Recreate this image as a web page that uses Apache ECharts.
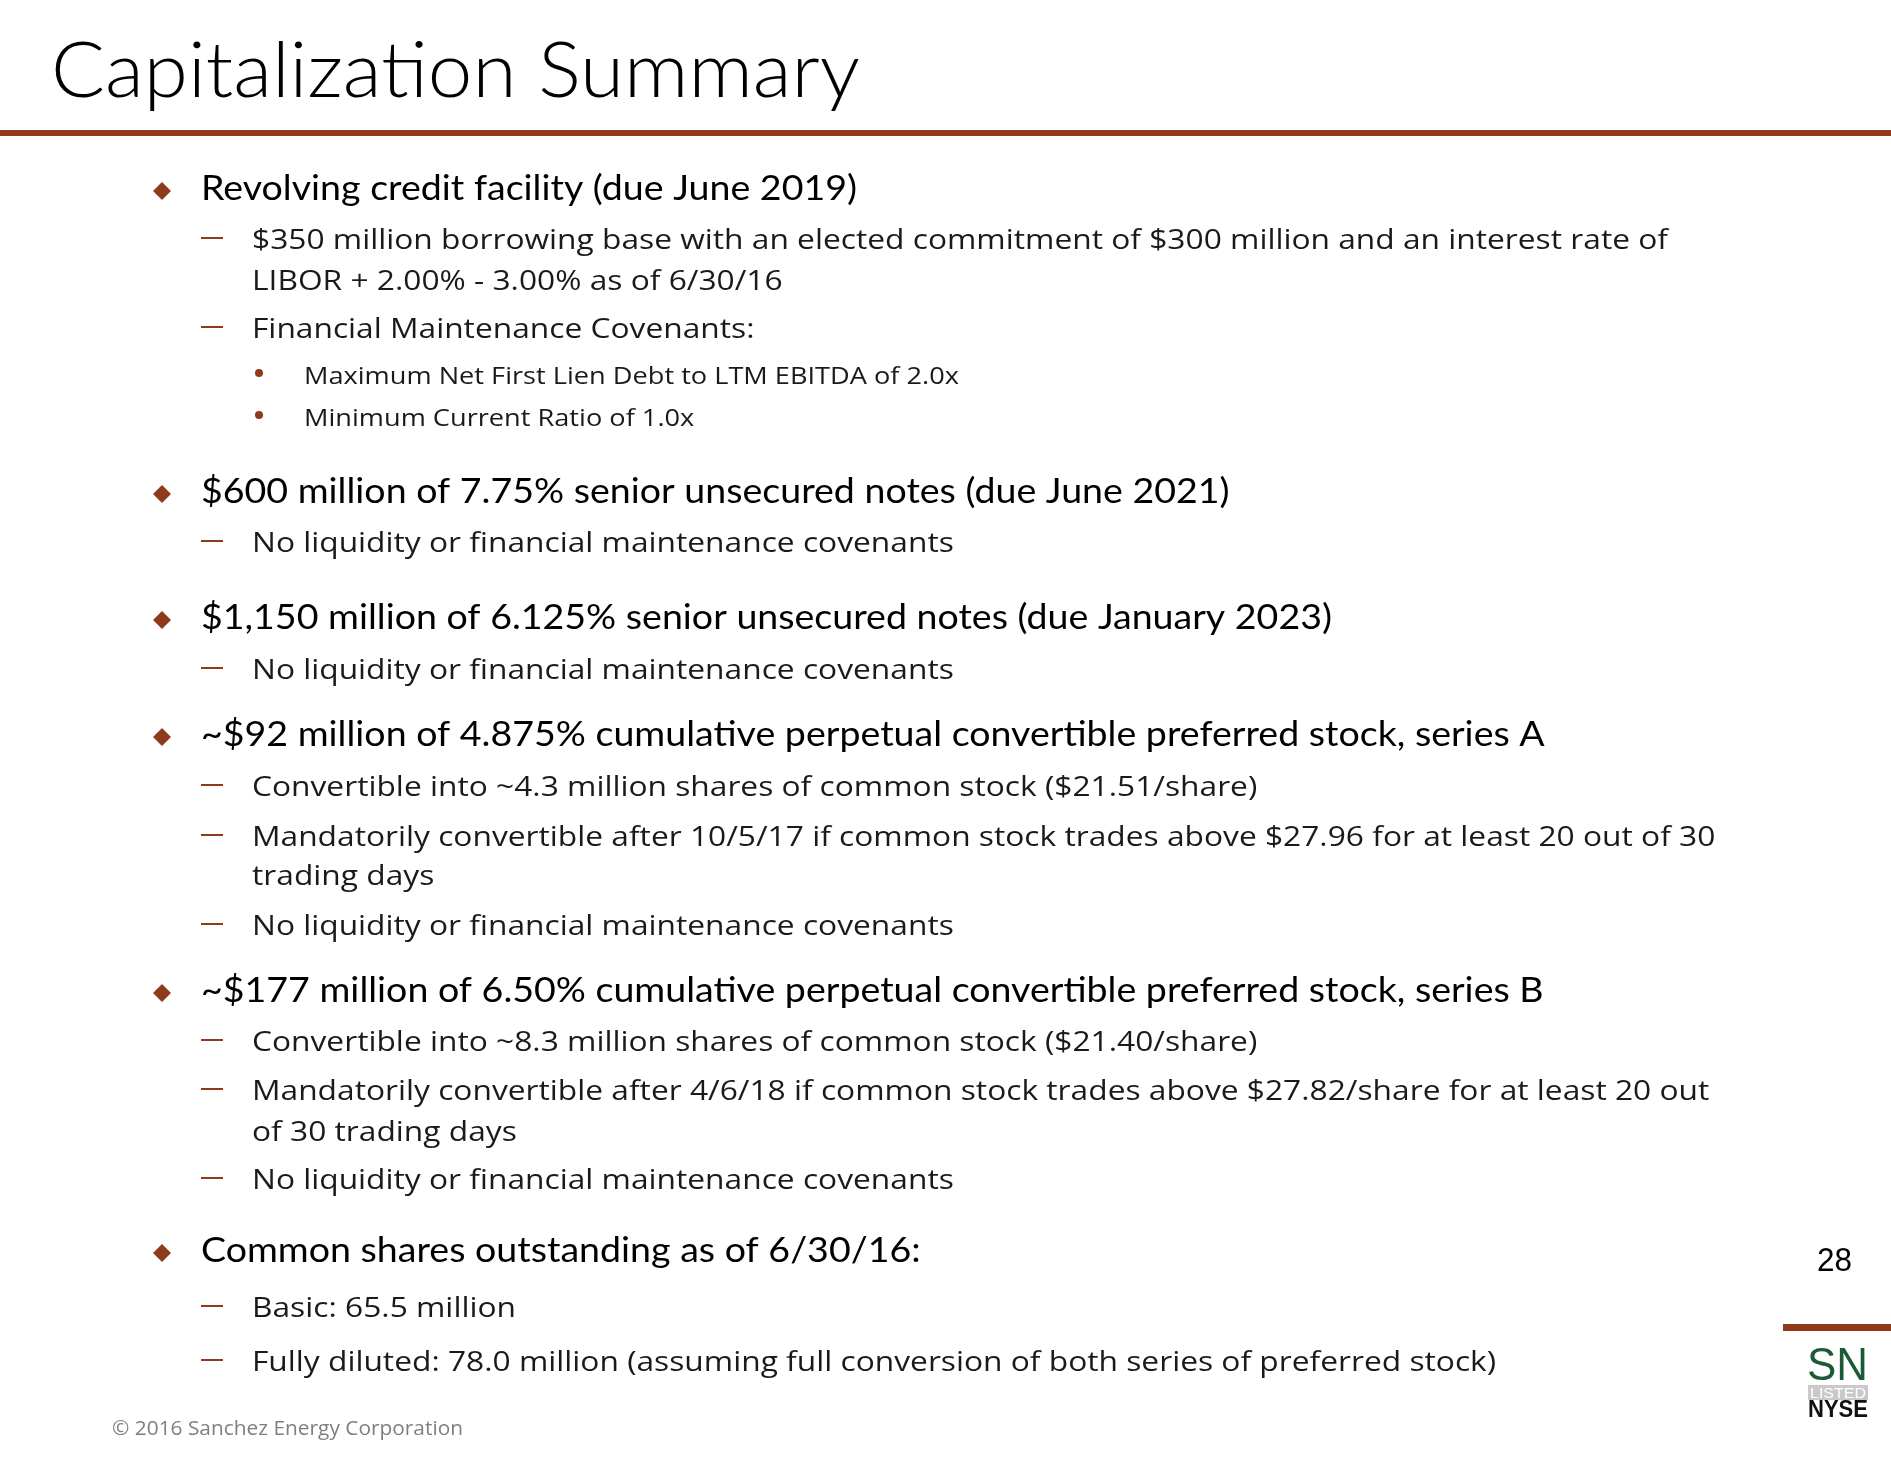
<!DOCTYPE html>
<html>
<head>
<meta charset="utf-8">
<script src="https://cdn.jsdelivr.net/npm/echarts@6/dist/echarts.min.js"></script>
<style>
html,body{margin:0;padding:0;background:#fff;}
#main{width:1891px;height:1461px;}
</style>
</head>
<body>
<div id="main"></div>
<script>
// ---------- content ----------
const titleText = 'Capitalization Summary';
const lineTexts = [
  'Revolving credit facility (due June 2019)',
  '$350 million borrowing base with an elected commitment of $300 million and an interest rate of',
  'LIBOR + 2.00% - 3.00% as of 6/30/16',
  'Financial Maintenance Covenants:',
  'Maximum Net First Lien Debt to LTM EBITDA of 2.0x',
  'Minimum Current Ratio of 1.0x',
  '$600 million of 7.75% senior unsecured notes (due June 2021)',
  'No liquidity or financial maintenance covenants',
  '$1,150 million of 6.125% senior unsecured notes (due January 2023)',
  'No liquidity or financial maintenance covenants',
  '~$92 million of 4.875% cumulative perpetual convertible preferred stock, series A',
  'Convertible into ~4.3 million shares of common stock ($21.51/share)',
  'Mandatorily convertible after 10/5/17 if common stock trades above $27.96 for at least 20 out of 30',
  'trading days',
  'No liquidity or financial maintenance covenants',
  '~$177 million of 6.50% cumulative perpetual convertible preferred stock, series B',
  'Convertible into ~8.3 million shares of common stock ($21.40/share)',
  'Mandatorily convertible after 4/6/18 if common stock trades above $27.82/share for at least 20 out',
  'of 30 trading days',
  'No liquidity or financial maintenance covenants',
  'Common shares outstanding as of 6/30/16:',
  'Basic: 65.5 million',
  'Fully diluted: 78.0 million (assuming full conversion of both series of preferred stock)'
];
// 1 = main bullet, 2 = dash item, 0 = continuation of a dash item, 3 = dot sub-item
const lineLevels = [1,2,0,2,3,3,1,2,1,2,1,2,2,0,2,1,2,2,0,2,1,2,2];
const footerText = '\u00A9 2016 Sanchez Energy Corporation';
const pageNumber = '28';
const logoTexts = ['SN', 'LISTED', 'NYSE'];

// ---------- layout ----------
const lineBaselines = [197,248,289,337,383,425,500,551,626,678,743,795,845,884,934,999,1050,1099,1140,1188,1259,1316,1370];
const BROWN = '#8E3A1B';

const styles = {
  1: {family: 'Lato', weight: 400, size: 35, color: '#000', x: 201, calib: 0, target: 656, dy: 6},
  2: {family: '"Open Sans"', weight: 400, size: 27, color: '#1a1a1a', x: 252, calib: 1, target: 1416, dy: 4},
  0: {family: '"Open Sans"', weight: 400, size: 27, color: '#1a1a1a', x: 252, calib: 1, target: 1416, dy: 4},
  3: {family: '"Open Sans"', weight: 400, size: 24, color: '#1a1a1a', x: 304, calib: 4, target: 655, dy: 4}
};

const cv = document.createElement('canvas').getContext('2d');
function fontStr(w, s, f) { return w + ' ' + s + 'px ' + f; }
function measure(text, w, s, f) {
  cv.font = fontStr(w, s, f);
  cv.textBaseline = 'alphabetic';
  const m = cv.measureText(text);
  const asc = m.fontBoundingBoxAscent !== undefined ? m.fontBoundingBoxAscent : s * 0.95;
  const desc = m.fontBoundingBoxDescent !== undefined ? m.fontBoundingBoxDescent : s * 0.25;
  return {width: m.width, mid: (asc - desc) / 2};
}
function textEl(text, x, baseline, w, s, f, color, targetWidth, scaleOverride) {
  const m = measure(text, w, s, f);
  const sx = scaleOverride !== undefined ? scaleOverride : (targetWidth ? targetWidth / m.width : 1);
  return {
    type: 'text', x: x, y: baseline - m.mid, scaleX: sx, scaleY: 1, silent: true,
    style: {text: text, fontFamily: f.replace(/"/g, ''), fontWeight: w, fontSize: s, fill: color,
      align: 'left', verticalAlign: 'middle', lineHeight: s}
  };
}

const elements = [];
// title
elements.push(textEl(titleText, 51, 102, 300, 77, 'Lato', '#000', 809));
// title rule
elements.push({type: 'rect', shape: {x: 0, y: 130, width: 1891, height: 6}, style: {fill: BROWN}, silent: true});

// per-style scale factors
const scales = {};
[1, 2, 3].forEach(function (lv) {
  const st = styles[lv];
  scales[lv] = st.target / measure(lineTexts[st.calib], st.weight, st.size, st.family).width;
});
scales[0] = scales[2];

lineTexts.forEach(function (t, i) {
  const lv = lineLevels[i];
  const st = styles[lv];
  const b = lineBaselines[i];
  elements.push(textEl(t, st.x, b + st.dy, st.weight, st.size, st.family, st.color, null, scales[lv]));
  if (lv === 1) {
    const cx = 162, cy = b - 6, r = 9;
    elements.push({type: 'polygon', shape: {points: [[cx, cy - r], [cx + r, cy], [cx, cy + r], [cx - r, cy]]},
      style: {fill: BROWN}, silent: true});
  } else if (lv === 2) {
    elements.push({type: 'rect', shape: {x: 201, y: b - 11, width: 22, height: 2}, style: {fill: BROWN}, silent: true});
  } else if (lv === 3) {
    elements.push({type: 'circle', shape: {cx: 259, cy: b - 10, r: 4}, style: {fill: BROWN}, silent: true});
  }
});

// footer
elements.push(textEl(footerText, 112, 1437, 400, 20, '"Open Sans"', '#7F7F7F', 351));
// page number
elements.push(textEl(pageNumber, 1817, 1273, 400, 33, '"Liberation Sans"', '#000', 35));
// logo rule
elements.push({type: 'rect', shape: {x: 1783, y: 1324, width: 108, height: 7}, style: {fill: BROWN}, silent: true});
// logo
elements.push(textEl(logoTexts[0], 1807, 1383, 400, 46, '"Liberation Sans"', '#1B5A35', 61));
elements.push({type: 'rect', shape: {x: 1808, y: 1385, width: 60, height: 15}, style: {fill: '#C9C9C9'}, silent: true});
elements.push(textEl(logoTexts[1], 1810, 1399, 400, 15, '"Liberation Sans"', '#FFFFFF', 56));
elements.push(textEl(logoTexts[2], 1808, 1419, 700, 24, '"Liberation Sans"', '#111', 60));

const chart = echarts.init(document.getElementById('main'), null, {renderer: 'canvas'});
chart.setOption({
  backgroundColor: '#FFFFFF',
  animation: false,
  graphic: {elements: elements}
});
</script>
</body>
</html>
